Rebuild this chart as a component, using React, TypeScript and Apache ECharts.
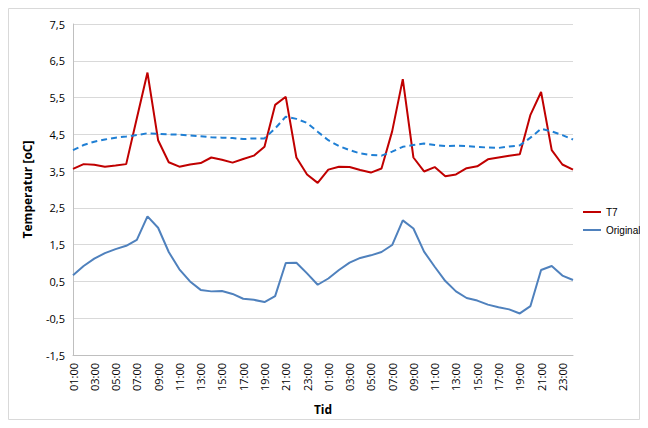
import React, { useEffect, useRef } from "react";
import * as echarts from "echarts";

const hours = Array.from({ length: 24 }, (_, i) => String(i + 1).padStart(2, "0") + ":00");
const categories = [...hours, ...hours];

const t7 = [3.56, 3.69, 3.67, 3.62, 3.65, 3.69, 4.94, 6.18, 4.34, 3.74, 3.62, 3.68, 3.72, 3.87, 3.81, 3.73, 3.83, 3.92, 4.16, 5.3, 5.52, 3.87, 3.41, 3.18,
  3.54, 3.62, 3.61, 3.53, 3.46, 3.57, 4.58, 6.0, 3.87, 3.49, 3.61, 3.36, 3.41, 3.58, 3.63, 3.82, 3.87, 3.92, 3.96, 5.03, 5.65, 4.07, 3.68, 3.54];
const trend = [4.07, 4.21, 4.3, 4.36, 4.41, 4.44, 4.48, 4.53, 4.51, 4.5, 4.49, 4.47, 4.45, 4.42, 4.41, 4.4, 4.37, 4.39, 4.39, 4.66, 4.98, 4.92, 4.81, 4.57,
  4.34, 4.18, 4.07, 3.98, 3.94, 3.92, 4.03, 4.16, 4.21, 4.25, 4.21, 4.18, 4.19, 4.18, 4.16, 4.14, 4.13, 4.17, 4.2, 4.41, 4.65, 4.58, 4.48, 4.36];
const original = [0.67, 0.92, 1.12, 1.27, 1.38, 1.47, 1.63, 2.27, 1.96, 1.3, 0.83, 0.5, 0.27, 0.23, 0.24, 0.16, 0.03, 0.0, -0.06, 0.1, 1.0, 1.01, 0.72, 0.41,
  0.58, 0.81, 1.01, 1.14, 1.21, 1.3, 1.49, 2.16, 1.94, 1.31, 0.9, 0.51, 0.23, 0.05, -0.02, -0.13, -0.2, -0.26, -0.37, -0.17, 0.81, 0.92, 0.66, 0.54];

export default function App() {
  const ref = useRef<HTMLDivElement>(null);
  useEffect(() => {
    const chart = echarts.init(ref.current!, null, { renderer: "svg" });
    const font = "'Open Sans', 'Liberation Sans', sans-serif";
    chart.setOption({
      animation: false,
      textStyle: { fontFamily: font },
      graphic: [{ type: "rect", shape: { x: 0.5, y: 0.5, width: 631, height: 411 }, style: { fill: "none", stroke: "#d9d9d9", lineWidth: 1 } }],
      grid: { left: 65, right: 67, top: 16, bottom: 59 },
      legend: {
        data: ["T7", "Original"], orient: "vertical", left: 570, top: 194, itemGap: 8,
        itemWidth: 18, itemHeight: 2, icon: "rect",
        textStyle: { fontSize: 10, color: "#000", fontFamily: "'Liberation Sans', sans-serif" },
      },
      xAxis: {
        type: "category", data: categories, boundaryGap: false,
        name: "Tid", nameLocation: "middle", nameGap: 48,
        nameTextStyle: { fontWeight: "bold", fontSize: 12, color: "#000" },
        axisLine: { onZero: false, lineStyle: { color: "#bfbfbf" } },
        axisTick: { show: false },
        axisLabel: { interval: 1, rotate: 90, fontSize: 11, color: "#000" },
      },
      yAxis: {
        type: "value", min: -1.5, max: 7.5, interval: 1,
        name: "Temperatur [oC]", nameLocation: "middle", nameGap: 40,
        nameTextStyle: { fontWeight: "bold", fontSize: 12, color: "#000" },
        axisLine: { show: true, lineStyle: { color: "#bfbfbf" } },
        axisLabel: { fontSize: 11, color: "#000", formatter: (v: number) => v.toFixed(1).replace(".", ",") },
        splitLine: { lineStyle: { color: "#d9d9d9" } },
      },
      series: [
        { name: "T7", type: "line", data: t7, showSymbol: false, lineStyle: { color: "#C00000", width: 2 }, itemStyle: { color: "#C00000" } },
        { name: "Trend", type: "line", data: trend, showSymbol: false, lineStyle: { color: "#1f7fd4", width: 2, type: [6, 4] }, itemStyle: { color: "#1f7fd4" } },
        { name: "Original", type: "line", data: original, showSymbol: false, lineStyle: { color: "#4F81BD", width: 2 }, itemStyle: { color: "#4F81BD" } },
      ],
    });
    return () => chart.dispose();
  }, []);
  return <div ref={ref} style={{ width: 632, height: 412 }} />;
}
